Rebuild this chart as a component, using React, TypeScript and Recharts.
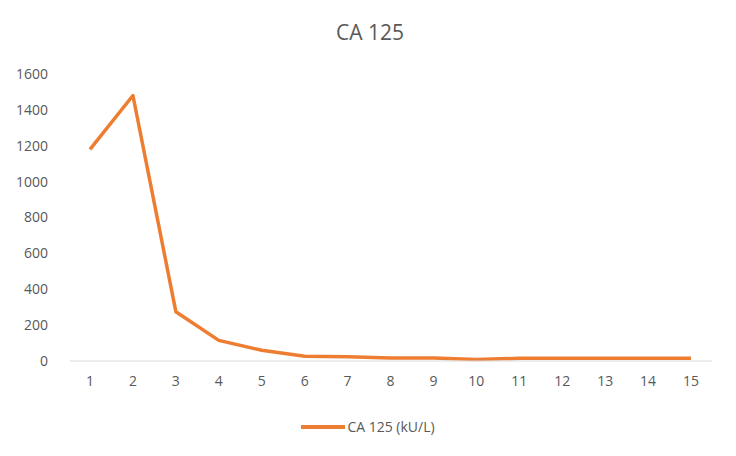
import React from "react";
import { LineChart, Line, XAxis, YAxis } from "recharts";

const categories = ["1", "2", "3", "4", "5", "6", "7", "8", "9", "10", "11", "12", "13", "14", "15"];
const ca125Values = [1180, 1480, 275, 115, 60, 26, 24, 17, 17, 8, 15, 15, 15, 15, 15];
const yTicks = [0, 200, 400, 600, 800, 1000, 1200, 1400, 1600];

const SERIES_NAME = "CA 125 (kU/L)";
const ORANGE = "#ED7D31";
const GRAY = "#595959";
const FONT = "'Open Sans', 'Liberation Sans', sans-serif";

const data = categories.map((c, i) => ({ name: c, value: ca125Values[i] }));

const LegendContent = () => (
  <div
    style={{
      display: "flex",
      justifyContent: "center",
      alignItems: "center",
      fontFamily: FONT,
      fontSize: 14,
      color: GRAY,
    }}
  >
    <svg width={44} height={8} style={{ marginRight: 2 }}>
      <line x1={0} y1={4} x2={44} y2={4} stroke={ORANGE} strokeWidth={4} />
    </svg>
    <span>{SERIES_NAME}</span>
  </div>
);

export default function App() {
  return (
    <div style={{ position: "absolute", left: 0, top: 0, width: 736, height: 456, background: "#fff" }}>
      <div
        style={{
          position: "absolute",
          top: 18,
          left: 0,
          width: 740,
          textAlign: "center",
          fontFamily: FONT,
          fontSize: 21,
          color: GRAY,
        }}
      >
        CA 125
      </div>
      <LineChart width={736} height={456} data={data} margin={{ top: 74, right: 24, left: 10, bottom: 65 }}>
        <XAxis
          dataKey="name"
          height={30}
          padding={{ left: 20, right: 21 }}
          axisLine={{ stroke: "#D9D9D9", strokeWidth: 1 }}
          tickLine={false}
          tickSize={0}
          tickMargin={15}
          tick={{ fill: GRAY, fontSize: 14, fontFamily: FONT }}
          interval={0}
        />
        <YAxis
          width={60}
          domain={[0, 1600]}
          ticks={yTicks}
          axisLine={false}
          tickLine={false}
          tickSize={0}
          tickMargin={22}
          tick={{ fill: GRAY, fontSize: 14, fontFamily: FONT }}
        />
        <Line
          type="linear"
          dataKey="value"
          name={SERIES_NAME}
          stroke={ORANGE}
          strokeWidth={3.5}
          strokeLinejoin="round"
          dot={false}
          activeDot={false}
          isAnimationActive={false}
        />
      </LineChart>
      <div style={{ position: "absolute", top: 417, left: 0, width: 736 }}>
        <LegendContent />
      </div>
    </div>
  );
}
